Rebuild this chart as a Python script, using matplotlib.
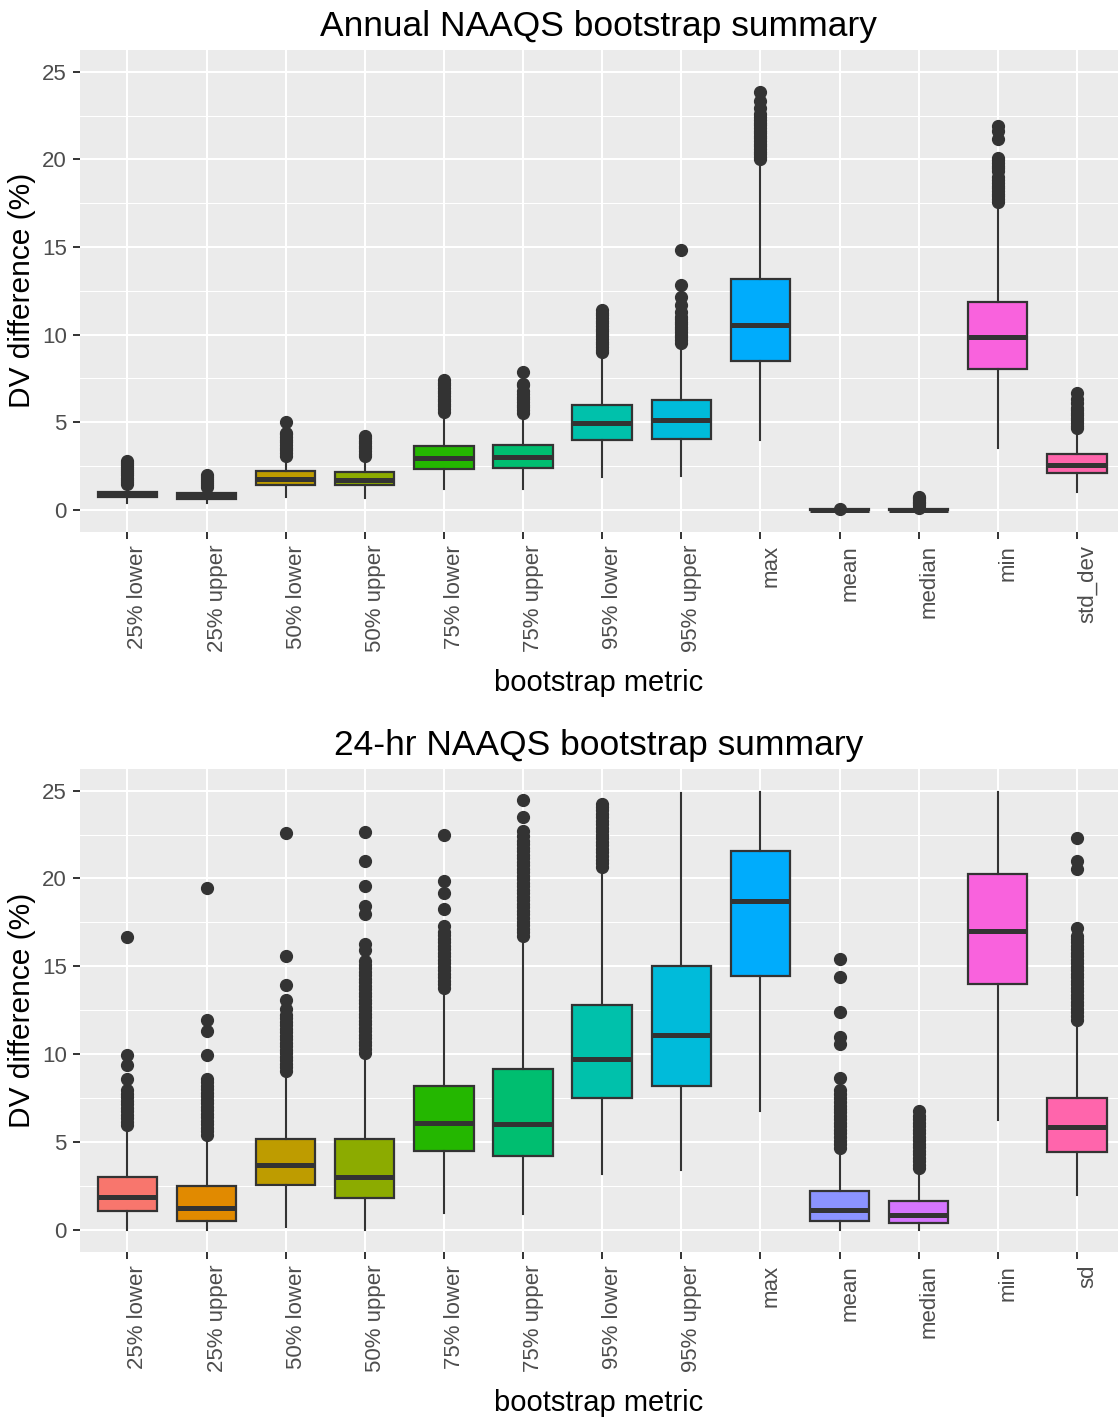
import matplotlib
matplotlib.use("Agg")
import matplotlib.pyplot as plt
from matplotlib.ticker import MultipleLocator

plt.rcParams['font.family'] = ['Liberation Sans', 'DejaVu Sans']

# ---- categories -------------------------------------------------------
annual_metrics = ["25% lower", "25% upper", "50% lower", "50% upper",
                  "75% lower", "75% upper", "95% lower", "95% upper",
                  "max", "mean", "median", "min", "std_dev"]
daily_metrics = ["25% lower", "25% upper", "50% lower", "50% upper",
                 "75% lower", "75% upper", "95% lower", "95% upper",
                 "max", "mean", "median", "min", "sd"]

hue_colors = ["#F8766D", "#E18A00", "#BE9C00", "#8CAB00", "#24B700",
              "#00BE70", "#00C1AB", "#00BBDA", "#00ACFC", "#8B93FF",
              "#D575FE", "#F962DD", "#FF65AC"]

# ---- Annual NAAQS: five-number summaries (DV difference, %) -----------
annual_whislo = [0.36, 0.36, 0.74, 0.70, 1.18, 1.18, 1.88, 1.93, 3.96, -0.06, -0.05, 3.54, 0.99]
annual_q1     = [0.71, 0.64, 1.40, 1.40, 2.31, 2.37, 3.98, 4.07, 8.47, -0.03, -0.02, 8.03, 2.08]
annual_med    = [0.85, 0.79, 1.74, 1.72, 2.98, 3.03, 4.96, 5.11, 10.53, 0.00, 0.00, 9.85, 2.56]
annual_q3     = [1.00, 0.94, 2.20, 2.15, 3.64, 3.68, 6.00, 6.29, 13.16, 0.03, 0.03, 11.84, 3.16]
annual_whishi = [1.38, 1.20, 3.00, 2.95, 5.50, 5.45, 8.90, 9.45, 19.90, 0.06, 0.08, 17.50, 4.55]
annual_outliers = [
    [1.48, 1.6, 1.72, 1.84, 1.96, 2.08, 2.2, 2.32, 2.44, 2.56, 2.68, 2.78],
    [1.28, 1.4, 1.52, 1.64, 1.76, 1.88, 2.0],
    [3.1, 3.25, 3.4, 3.55, 3.7, 3.85, 4.0, 4.15, 4.3, 4.4, 5.0],
    [3.05, 3.2, 3.35, 3.5, 3.65, 3.8, 3.95, 4.1, 4.2],
    [5.6, 5.75, 5.9, 6.05, 6.2, 6.35, 6.5, 6.65, 6.8, 6.95, 7.1, 7.25, 7.4],
    [5.55, 5.7, 5.85, 6.0, 6.15, 6.3, 6.45, 6.6, 6.76, 7.1, 7.2, 7.84],
    [9.0, 9.15, 9.3, 9.45, 9.6, 9.75, 9.9, 10.05, 10.2, 10.35, 10.5, 10.65,
     10.8, 10.95, 11.1, 11.25, 11.4],
    [9.55, 9.7, 9.85, 10.0, 10.15, 10.3, 10.45, 10.6, 10.75, 10.9, 11.02,
     11.27, 11.68, 12.16, 12.82, 14.85],
    [20.0, 20.15, 20.3, 20.45, 20.6, 20.75, 20.9, 21.05, 21.2, 21.35, 21.5,
     21.65, 21.8, 21.95, 22.1, 22.25, 22.4, 22.58, 22.96, 23.34, 23.86],
    [0.04],
    [0.12, 0.25, 0.37, 0.45, 0.55, 0.65, 0.75],
    [17.6, 17.75, 17.9, 18.05, 18.2, 18.35, 18.5, 18.65, 18.8, 18.98,
     19.36, 19.5, 19.65, 19.8, 19.95, 20.11, 21.16, 21.63, 21.9],
    [4.65, 4.8, 4.95, 5.1, 5.25, 5.4, 5.55, 5.7, 5.82, 6.1, 6.35, 6.67],
]

# ---- 24-hr NAAQS: five-number summaries (DV difference, %) ------------
daily_whislo = [0.00, 0.00, 0.17, 0.00, 0.93, 0.88, 3.16, 3.39, 6.76, 0.00, 0.00, 6.25, 1.99]
daily_q1     = [1.05, 0.49, 2.54, 1.82, 4.51, 4.20, 7.50, 8.18, 14.43, 0.48, 0.36, 14.00, 4.43]
daily_med    = [1.86, 1.22, 3.71, 3.03, 6.06, 6.00, 9.74, 11.08, 18.73, 1.12, 0.84, 17.03, 5.85]
daily_q3     = [3.03, 2.50, 5.15, 5.15, 8.16, 9.13, 12.82, 15.04, 21.59, 2.20, 1.61, 20.23, 7.50]
daily_whishi = [5.90, 5.30, 9.00, 10.00, 13.70, 16.70, 20.60, 24.85, 24.95, 4.60, 3.40, 24.90, 11.90]
daily_outliers = [
    [5.95, 6.15, 6.35, 6.55, 6.75, 6.95, 7.15, 7.35, 7.55, 7.75, 7.95,
     8.56, 9.36, 9.94, 16.67],
    [5.4, 5.6, 5.8, 6.0, 6.2, 6.4, 6.6, 6.8, 7.0, 7.2, 7.4, 7.6, 7.8, 8.0,
     8.2, 8.4, 8.56, 9.94, 11.31, 11.97, 19.43],
    [9.05, 9.25, 9.45, 9.65, 9.85, 10.05, 10.25, 10.45, 10.65, 10.85, 11.05,
     11.25, 11.45, 11.65, 11.85, 12.05, 12.25, 12.58, 13.1, 13.96, 15.57, 22.58],
    [10.08, 10.3, 10.5, 10.7, 10.9, 11.1, 11.3, 11.5, 11.7, 11.9, 12.1, 12.3,
     12.5, 12.7, 12.9, 13.1, 13.3, 13.5, 13.7, 13.9, 14.1, 14.3, 14.5, 14.7,
     14.9, 15.1, 15.28, 15.95, 16.27, 17.99, 18.45, 19.58, 20.97, 22.65],
    [13.77, 13.97, 14.17, 14.37, 14.57, 14.77, 14.97, 15.17, 15.37, 15.57,
     15.77, 15.97, 16.17, 16.37, 16.57, 16.77, 16.97, 17.27, 18.26, 19.17,
     19.87, 22.5],
    [16.75, 16.95, 17.15, 17.35, 17.55, 17.75, 17.95, 18.15, 18.35, 18.55,
     18.75, 18.95, 19.15, 19.35, 19.55, 19.75, 19.95, 20.15, 20.35, 20.55,
     20.75, 20.95, 21.15, 21.35, 21.55, 21.75, 21.95, 22.15, 22.39, 22.71,
     23.49, 24.47],
    [20.68, 20.88, 21.08, 21.28, 21.48, 21.68, 21.88, 22.08, 22.28, 22.48,
     22.68, 22.88, 23.08, 23.28, 23.48, 23.68, 23.88, 24.08, 24.25],
    [],
    [],
    [4.68, 4.88, 5.08, 5.28, 5.48, 5.68, 5.88, 6.08, 6.28, 6.48, 6.68, 6.86,
     7.06, 7.26, 7.52, 7.75, 7.95, 8.66, 10.59, 10.97, 12.41, 14.4, 15.44],
    [3.5, 3.7, 3.9, 4.1, 4.3, 4.5, 4.7, 4.9, 5.1, 5.3, 5.5, 5.7, 5.9, 6.1,
     6.3, 6.5, 6.76],
    [],
    [11.97, 12.17, 12.37, 12.57, 12.77, 12.97, 13.17, 13.37, 13.57, 13.77,
     13.97, 14.17, 14.37, 14.57, 14.77, 14.97, 15.17, 15.37, 15.57, 15.77,
     15.97, 16.17, 16.37, 16.55, 16.7, 17.18, 20.53, 20.97, 22.33],
]

# ---- styling ------------------------------------------------------------
PANEL_BG = "#EBEBEB"
INK = "#333333"
TICK_TXT = "#4D4D4D"

fig = plt.figure(figsize=(11.18, 14.2), dpi=100)
ax_top = fig.add_axes([80 / 1118, 1 - 531.7 / 1420, 1 - 80 / 1118, 481.7 / 1420])
ax_bot = fig.add_axes([80 / 1118, 1 - 1251.7 / 1420, 1 - 80 / 1118, 483.0 / 1420])


def draw_panel(ax, title, labels, whislo, q1, med, q3, whishi, outliers):
    stats = []
    for i in range(len(labels)):
        stats.append(dict(whislo=whislo[i], q1=q1[i], med=med[i], q3=q3[i],
                          whishi=whishi[i], fliers=outliers[i], label=labels[i]))
    pos = list(range(1, len(labels) + 1))
    art = ax.bxp(stats, positions=pos, widths=0.75, patch_artist=True,
                 showcaps=False, manage_ticks=False,
                 boxprops=dict(edgecolor=INK, linewidth=1.6),
                 whiskerprops=dict(color=INK, linewidth=1.5),
                 medianprops=dict(color=INK, linewidth=3.6, solid_capstyle='butt'),
                 flierprops=dict(marker='o', markerfacecolor=INK,
                                 markeredgecolor=INK, markersize=8.5,
                                 linestyle='none'))
    for patch, c in zip(art['boxes'], hue_colors):
        patch.set_facecolor(c)
    for item in art['boxes'] + art['whiskers'] + art['medians'] + art['fliers']:
        item.set_zorder(3)

    ax.set_facecolor(PANEL_BG)
    ax.set_xlim(0.4, 13.52)
    ax.set_ylim(-1.25, 26.25)
    ax.set_xticks(pos)
    ax.set_xticklabels(labels, rotation=90, ha='left', va='top')
    ax.yaxis.set_major_locator(MultipleLocator(5))
    ax.yaxis.set_minor_locator(MultipleLocator(2.5))
    ax.grid(which='major', color='white', linewidth=1.5, zorder=0)
    ax.grid(which='minor', axis='y', color='white', linewidth=0.75, zorder=0)
    ax.set_axisbelow(True)
    for s in ax.spines.values():
        s.set_visible(False)
    ax.tick_params(axis='both', which='major', length=5, width=1.4,
                   color=INK, labelcolor=TICK_TXT, labelsize=16, pad=4.5)
    ax.tick_params(axis='y', which='minor', length=0)

    ax.set_title(title, fontsize=25.5, pad=10, color='black')
    ax.set_xlabel("bootstrap metric", fontsize=21, va='center')
    ax.xaxis.set_label_coords(0.5, -0.314)
    ax.set_ylabel("DV difference (%)", fontsize=21.5, va='center')
    ax.yaxis.set_label_coords(-0.056, 0.5)


draw_panel(ax_top, "Annual NAAQS bootstrap summary", annual_metrics,
           annual_whislo, annual_q1, annual_med, annual_q3, annual_whishi,
           annual_outliers)
draw_panel(ax_bot, "24-hr NAAQS bootstrap summary", daily_metrics,
           daily_whislo, daily_q1, daily_med, daily_q3, daily_whishi,
           daily_outliers)

fig.savefig("out.png", dpi=100, facecolor='white')
